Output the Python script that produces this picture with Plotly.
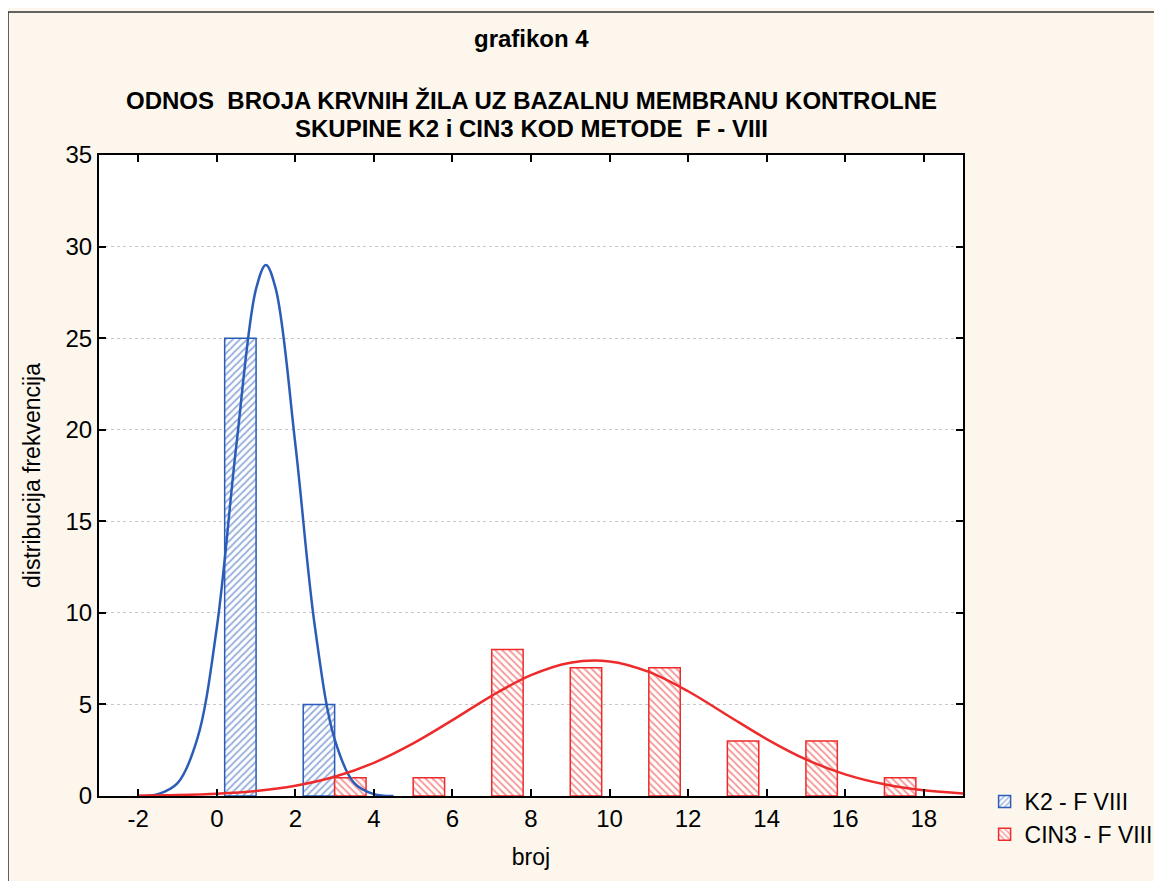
import plotly.graph_objects as go

# ===== 数据 =====
bin_centers = [1, 3, 5, 7, 9, 11, 13, 15, 17]
k2_counts = [25, 5, 0, 0, 0, 0, 0, 0, 0]
cin3_counts = [0, 1, 1, 8, 7, 7, 3, 3, 1]

# fitted normal curves
k2_curve_x = [-2, -1.5, -1, -0.5, 0, 0.5, 1, 1.25, 1.5, 2, 2.5, 3, 3.5, 4, 4.5]
k2_curve_y = [0.0, 0.1, 0.7, 3.1, 9.2, 19.2, 27.7, 29.0, 27.7, 19.2, 9.2, 3.1, 0.7, 0.1, 0.0]
cin3_curve_x = [-2, -1, 0, 1, 2, 3, 4, 5, 6, 7, 8, 9, 10, 11, 12, 13, 14, 15, 16, 17, 18, 19]
cin3_curve_y = [0.02, 0.05, 0.12, 0.27, 0.56, 1.05, 1.81, 2.87, 4.14, 5.47, 6.6, 7.28, 7.35,
                6.78, 5.72, 4.41, 3.11, 2.0, 1.18, 0.64, 0.31, 0.14]

x_ticks = [-2, 0, 2, 4, 6, 8, 10, 12, 14, 16, 18]
y_ticks = [0, 5, 10, 15, 20, 25, 30, 35]

BLUE = "#2B5DB8"
RED = "#EE2B2B"
BG = "#FCF6ED"
FONT = "Liberation Sans, Arial, sans-serif"


def no_zero(vals):
    # 空的组不画边框
    return [v if v else None for v in vals]


fig = go.Figure()

fig.add_trace(go.Bar(
    x=bin_centers, y=no_zero(k2_counts), name="K2 - F VIII",
    marker=dict(color="white", line=dict(color=BLUE, width=1.5),
                pattern=dict(shape="/", fgcolor=BLUE, bgcolor="white", size=5, solidity=0.35)),
))
fig.add_trace(go.Bar(
    x=bin_centers, y=no_zero(cin3_counts), name="CIN3 - F VIII",
    marker=dict(color="white", line=dict(color=RED, width=1.5),
                pattern=dict(shape="\\", fgcolor=RED, bgcolor="white", size=5, solidity=0.35)),
))

fig.add_trace(go.Scatter(
    x=k2_curve_x, y=k2_curve_y, mode="lines", showlegend=False,
    line=dict(color=BLUE, width=2.5, shape="spline"),
))
fig.add_trace(go.Scatter(
    x=cin3_curve_x, y=cin3_curve_y, mode="lines", showlegend=False,
    line=dict(color=RED, width=2.5, shape="spline"),
))

# 标题
title_font = dict(size=24, color="black", family=FONT)
fig.add_annotation(text="<b>grafikon 4</b>", xref="paper", yref="paper", x=0.5, y=1.1825,
                   yanchor="middle", showarrow=False, font=title_font)
fig.add_annotation(text="<b>ODNOS&nbsp; BROJA KRVNIH ŽILA UZ BAZALNU MEMBRANU KONTROLNE</b>",
                   xref="paper", yref="paper", x=0.5, y=1.0858, yanchor="middle",
                   showarrow=False, font=title_font)
fig.add_annotation(text="<b>SKUPINE K2 i CIN3 KOD METODE&nbsp; F - VIII</b>",
                   xref="paper", yref="paper", x=0.5, y=1.042, yanchor="middle",
                   showarrow=False, font=title_font)

# outer frame
fig.add_shape(type="rect", xref="paper", yref="paper", x0=-0.1053, y0=-0.3, x1=1.3, y1=1.223,
              line=dict(color="#333333", width=1.5), layer="below")

fig.update_layout(
    width=1162, height=881,
    barmode="group", bargap=0.2, bargroupgap=0,
    paper_bgcolor=BG, plot_bgcolor="white",
    margin=dict(l=91, r=207, t=147, b=93),
    font=dict(family=FONT, size=24, color="black"),
    legend=dict(x=1.025, y=0.025, xanchor="left", yanchor="top",
                bgcolor="rgba(0,0,0,0)", font=dict(size=23), tracegroupgap=0),
)
fig.update_xaxes(
    range=[-3, 19], tickvals=x_ticks, ticktext=[str(t) for t in x_ticks],
    ticks="inside", ticklen=7, tickwidth=2,
    tickcolor="black", showline=True, linecolor="black", linewidth=2, mirror="ticks",
    showgrid=False, zeroline=False, tickfont=dict(size=24),
    title=dict(text="broj", font=dict(size=23), standoff=18),
)
fig.update_yaxes(
    range=[0, 35], tickvals=y_ticks, ticks="inside", ticklen=7, tickwidth=2,
    tickcolor="black", showline=True, linecolor="black", linewidth=2, mirror="ticks",
    showgrid=True, gridcolor="#C8C8C8", griddash="dot", gridwidth=1, zeroline=False,
    tickfont=dict(size=24),
    title=dict(text="distribucija frekvencija", font=dict(size=23), standoff=18),
)

fig.write_html("out.html")
